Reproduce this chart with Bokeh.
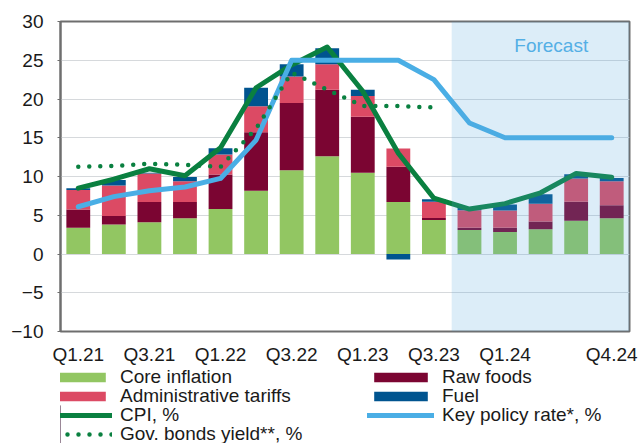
from bokeh.plotting import figure
from bokeh.layouts import column
from bokeh.models import (ColumnDataSource, FixedTicker, BoxAnnotation, Label,
                          Legend, LegendItem, Range1d)
from bokeh.embed import file_html
from bokeh.resources import INLINE

# ---------------- data ----------------
quarters = ["Q1.21", "Q2.21", "Q3.21", "Q4.21", "Q1.22", "Q2.22", "Q3.22", "Q4.22",
            "Q1.23", "Q2.23", "Q3.23", "Q4.23", "Q1.24", "Q2.24", "Q3.24", "Q4.24"]
core_inflation = [3.4, 3.8, 4.1, 4.6, 5.8, 8.15, 10.8, 12.6, 10.5, 6.7, 4.4, 3.1, 2.85, 3.2, 4.3, 4.6]
raw_foods = [2.35, 1.1, 2.6, 2.1, 4.45, 7.55, 8.7, 8.6, 7.2, 4.55, 0.25, 0.3, 0.55, 1.0, 2.45, 1.7]
admin_tariffs = [2.5, 3.95, 3.7, 2.7, 2.6, 3.35, 3.4, 3.3, 2.7, 2.35, 2.1, 2.25, 2.2, 2.3, 3.0, 3.1]
fuel = [0.25, 0.7, 0.1, 0.55, 0.8, 2.4, 1.6, 2.05, 0.8, -0.7, 0.3, 0.3, 0.8, 1.2, 0.55, 0.4]
cpi = [8.5, 9.65, 11.0, 10.1, 13.7, 21.45, 24.4, 26.7, 21.0, 13.0, 7.2, 5.8, 6.5, 7.9, 10.4, 9.9]
key_rate = [6.1, 7.4, 8.15, 8.65, 9.75, 14.7, 25.0, 25.0, 25.0, 25.0, 22.5, 16.9, 15.0, 15.0, 15.0, 15.0]
bond_quarters = quarters[:11]
bond_yield = [11.25, 11.35, 11.65, 11.5, 11.25, 16.2, 23.4, 21.2, 19.1, 19.1, 18.9]
tick_quarters = ["Q1.21", "Q3.21", "Q1.22", "Q3.22", "Q1.23", "Q3.23", "Q1.24", "Q4.24"]
y_ticks = [-10, -5, 0, 5, 10, 15, 20, 25, 30]
forecast_start = "Q4.23"

FONT = "Liberation Sans"
C_CORE = "#92c662"
C_RAW = "#7b0532"
C_ADMIN = "#dc4a64"
C_FUEL = "#00548f"
C_CPI = "#0a8040"
C_KEY = "#4aaee5"

xs = list(range(len(quarters)))
xi = {q: i for i, q in enumerate(quarters)}

# stacked positions (positives up, negatives down)
series = [("core", core_inflation, C_CORE), ("raw", raw_foods, C_RAW),
          ("admin", admin_tariffs, C_ADMIN), ("fuel", fuel, C_FUEL)]
pos = [0.0] * len(quarters)
neg = [0.0] * len(quarters)
data = {"x": xs}
for name, vals, _ in series:
    b, t = [], []
    for i, v in enumerate(vals):
        if v >= 0:
            b.append(pos[i]); t.append(pos[i] + v); pos[i] += v
        else:
            b.append(neg[i] + v); t.append(neg[i]); neg[i] += v
    data[name + "_b"] = b
    data[name + "_t"] = t
src = ColumnDataSource(data)

p = figure(width=640, height=367, output_backend="svg", toolbar_location=None,
           x_range=Range1d(-0.5, len(quarters) - 0.5), y_range=Range1d(-10, 30),
           min_border_left=60, min_border_right=11, min_border_top=21, min_border_bottom=35)
p.background_fill_color = "white"
p.border_fill_color = "white"
p.outline_line_color = "#6e6e6e"
p.outline_line_width = 2

p.xgrid.visible = False
p.ygrid.grid_line_color = "#d6d9dc"
p.ygrid.grid_line_width = 1
p.yaxis.ticker = FixedTicker(ticks=y_ticks)
p.yaxis.axis_line_color = "#6e6e6e"
p.yaxis.axis_line_width = 2
p.yaxis.major_tick_line_color = "#6e6e6e"
p.yaxis.major_tick_out = 3
p.yaxis.major_tick_in = 0
p.yaxis.minor_tick_line_color = None
p.yaxis.major_label_standoff = 14
p.xaxis.ticker = FixedTicker(ticks=[xi[q] for q in tick_quarters])
p.xaxis.major_label_overrides = {xi[q]: q for q in tick_quarters}
p.xaxis.axis_line_color = None
p.xaxis.major_tick_line_color = None
p.xaxis.minor_tick_line_color = None
p.xaxis.major_tick_out = 0
p.xaxis.major_tick_in = 0
p.xaxis.major_label_standoff = 12
for ax in (p.xaxis, p.yaxis):
    ax.major_label_text_font = FONT
    ax.major_label_text_font_size = "19px"
    ax.major_label_text_color = "#1a1a1a"

bars = {}
for name, vals, col in series:
    bars[name] = p.vbar(x="x", bottom=name + "_b", top=name + "_t", width=0.67, source=src,
                        fill_color=col, line_color=None)

p.line(xs, cpi, line_color=C_CPI, line_width=5, line_join="round", line_cap="round")
p.line(xs, key_rate, line_color=C_KEY, line_width=5, line_join="round", line_cap="round")
p.line([xi[q] for q in bond_quarters], bond_yield, line_color=C_CPI, line_width=4.5,
       line_dash="0 11", line_cap="round")

shade = BoxAnnotation(left=xi[forecast_start] - 0.5, fill_color="#50a5dc", fill_alpha=0.2,
                      line_color=None, level="overlay")
p.add_layout(shade)
p.add_layout(Label(x=13.3, y=26.9, text="Forecast", text_align="center", text_baseline="middle",
                   text_font=FONT, text_font_size="19px", text_color="#55b2e8"))

# ---------------- legend panel ----------------
lg = figure(width=640, height=76, output_backend="svg", toolbar_location=None,
            x_range=Range1d(0, 1), y_range=Range1d(0, 1),
            x_axis_location=None, y_axis_location=None,
            min_border=0, min_border_left=60, min_border_right=11,
            min_border_top=0, min_border_bottom=0)
lg.xgrid.visible = False
lg.ygrid.visible = False
lg.outline_line_color = None
lg.background_fill_color = "white"
lg.border_fill_color = "white"

# swatch renderers (kept outside the visible range; only their legend glyphs show)
hid_x = [-5.0]
sw = {}
for name, _, col in series:
    sw[name] = lg.vbar(x=hid_x, top=[0.5], bottom=[0.0], width=0.5, fill_color=col, line_color=None)
sw_cpi = lg.line(x=[-5, -4], y=[0.5, 0.5], line_color=C_CPI, line_width=5, line_cap="round")
sw_key = lg.line(x=[-5, -4], y=[0.5, 0.5], line_color=C_KEY, line_width=5, line_cap="round")
sw_bond = lg.line(x=[-5, -4], y=[0.5, 0.5], line_color=C_CPI, line_width=4.5,
                  line_dash="0 11", line_cap="round")

rows = [
    [("Core inflation", sw["core"]), ("Raw foods", sw["raw"])],
    [("Administrative tariffs", sw["admin"]), ("Fuel", sw["fuel"])],
    [("CPI, %", sw_cpi), ("Key policy rate*, %", sw_key)],
    [("Gov. bonds yield**, %", sw_bond)],
]
row_vy = [55, 36, 17, -2]
for row, vy in zip(rows, row_vy):
    leg = Legend(items=[LegendItem(label=t, renderers=[r]) for t, r in row],
                 location=(-15, vy), orientation="horizontal",
                 glyph_width=67, glyph_height=12, label_standoff=8, label_height=19,
                 label_width=247, spacing=0, padding=0, margin=0, border_line_color=None,
                 background_fill_alpha=0, label_text_font=FONT, label_text_font_size="19px",
                 label_text_color="#1a1a1a")
    lg.add_layout(leg)

layout = column(p, lg, spacing=0)
open("out.html", "w").write(file_html(layout, INLINE))
